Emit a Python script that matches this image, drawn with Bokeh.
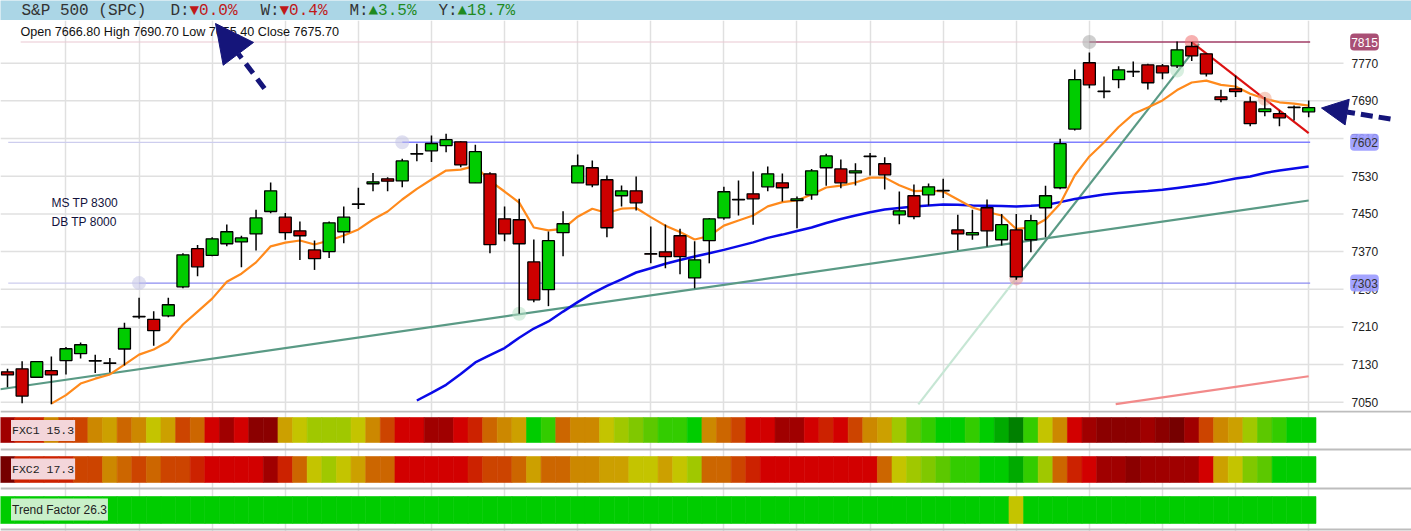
from bokeh.plotting import figure
from bokeh.models import Range1d, FixedTicker, Label, Arrow, NormalHead, ColumnDataSource, Span
from bokeh.layouts import column
from bokeh.embed import file_html
from bokeh.resources import INLINE
from bokeh.core.properties import value
from bokeh.transform import linear_cmap

# ---------------- data ----------------
candle_open = [
    7114.5, 7121, 7103, 7117, 7138.5, 7153, 7137.5, 7132.5, 7163, 7232.5,
    7226, 7233.5, 7295, 7376, 7362, 7386.5, 7390.5, 7407.5, 7455, 7443,
    7414, 7373.5, 7370, 7412, 7470, 7514, 7524.5, 7520, 7577, 7584,
    7595, 7603, 7516, 7535, 7439.5, 7437.5, 7348, 7289, 7410, 7516,
    7548, 7522.5, 7488.5, 7499, 7365.5, 7369.5, 7403.5, 7314, 7393, 7441.5,
    7481, 7492.5, 7507.5, 7516, 7478, 7490.5, 7548, 7545.5, 7537, 7571.5,
    7556.5, 7448, 7488.5, 7490.5, 7500, 7416, 7405.5, 7463, 7395, 7416,
    7395, 7463, 7505.5, 7630, 7771, 7710.5, 7735, 7751.5, 7766.5, 7764.5,
    7764.5, 7805.5, 7790, 7698.5, 7715.5, 7688, 7667, 7663, 7676.5, 7666.8]
candle_high = [
    7121, 7137, 7136.5, 7147, 7167, 7177, 7151, 7144, 7219, 7272,
    7243, 7272, 7366.5, 7384, 7400.5, 7427.5, 7403.5, 7458.5, 7516.5, 7452,
    7434, 7393.5, 7434, 7465.5, 7505.5, 7537, 7528, 7567, 7599, 7616.5,
    7620, 7604.5, 7597, 7538.5, 7465.5, 7482, 7395.5, 7412.5, 7455.5, 7576,
    7563.5, 7531.5, 7510.5, 7529.5, 7423, 7427.5, 7418.5, 7392, 7441.5, 7507.5,
    7521, 7540, 7550.5, 7535.5, 7487, 7545.5, 7577.5, 7565.5, 7557.5, 7579.5,
    7570.5, 7497.5, 7512.5, 7514.5, 7524.5, 7448, 7459, 7480.5, 7450, 7450,
    7448, 7509.5, 7609.5, 7756.5, 7793, 7742, 7763.5, 7773.5, 7769, 7768.5,
    7816, 7815, 7790.5, 7713.5, 7744, 7699.5, 7698, 7669.5, 7680, 7690.7]
candle_low = [
    7082, 7048, 7102, 7045.5, 7109, 7143, 7112, 7113, 7128, 7227,
    7170, 7230.5, 7292, 7317.5, 7360, 7381, 7336.5, 7372, 7451.5, 7395,
    7352, 7331, 7356.5, 7387.5, 7460.5, 7498, 7498, 7506.5, 7562, 7560,
    7581, 7549, 7516, 7366.5, 7392, 7238, 7262.5, 7254, 7360, 7516,
    7506.5, 7400.5, 7465.5, 7457, 7345, 7334.5, 7322, 7292, 7345, 7437.5,
    7446.5, 7427, 7498, 7476.5, 7419.5, 7480, 7509.5, 7504.5, 7510, 7531.5,
    7502, 7428, 7438.5, 7468, 7483.5, 7373.5, 7395, 7380.5, 7383, 7310,
    7368.5, 7400.5, 7502.5, 7627, 7717, 7695.5, 7717, 7740.5, 7714, 7736,
    7760, 7774.5, 7742, 7687, 7698, 7636, 7657.5, 7636, 7648.5, 7655.4]
candle_close = [
    7108, 7063, 7136, 7108, 7163.5, 7172, 7138.5, 7133.5, 7207, 7231.5,
    7202, 7257, 7363, 7337.5, 7397, 7412, 7399, 7441.5, 7499, 7410,
    7403.5, 7355, 7431, 7443, 7471, 7518, 7519.5, 7562.5, 7578, 7599.5,
    7607.5, 7554, 7582, 7384.5, 7407.5, 7386.5, 7267.5, 7393, 7429, 7552,
    7511.5, 7420.5, 7499, 7473.5, 7364.5, 7359, 7359, 7352.5, 7439.5, 7497,
    7480, 7482, 7535, 7505.5, 7482, 7541.5, 7573, 7516, 7541.5, 7572.5,
    7533, 7456.5, 7444, 7507.5, 7499, 7407.5, 7410, 7414, 7427, 7316.5,
    7435.5, 7488.5, 7599, 7735, 7724, 7709.5, 7756, 7752.5, 7728.5, 7749.5,
    7798.5, 7785.5, 7747.5, 7692.5, 7709.5, 7641.5, 7673, 7654, 7675.5, 7675.7]

ma_fast_start = 3
ma_fast = [
    7047, 7065, 7089.7, 7100, 7109, 7130, 7151,
    7162, 7179, 7215, 7242.5, 7270, 7306, 7323, 7347, 7381, 7389,
    7393.5, 7385, 7393.5, 7404, 7417, 7438, 7455, 7480.5, 7503, 7523,
    7542, 7544, 7552, 7520, 7497.5, 7474, 7421, 7415, 7418, 7444,
    7461, 7452, 7461, 7462.5, 7443, 7425, 7411.5, 7395.5, 7403, 7425,
    7436, 7446.5, 7466, 7475, 7478.5, 7491, 7506, 7510, 7516.5, 7527,
    7527, 7511, 7498.5, 7499.5, 7497.5, 7480.5, 7463.5, 7454, 7446.5, 7418,
    7421, 7438, 7471.5, 7531.5, 7572, 7601.5, 7634.5, 7662, 7676, 7691,
    7713, 7729, 7733, 7724, 7720.5, 7705, 7694.5, 7687, 7684, 7680]
ma_slow_start = 28
ma_slow = [
    7053.6, 7070,
    7087, 7110, 7134.5, 7150, 7165, 7187, 7206.5, 7221.5, 7242.5, 7262.5,
    7281, 7297, 7311, 7325.5, 7334.5, 7344, 7352, 7359.5, 7366.5, 7373.5,
    7381.5, 7389.5, 7399, 7406, 7413.5, 7421, 7430.5, 7439, 7446.5, 7453.5,
    7459.5, 7462.5, 7465.5, 7468, 7470, 7469.5, 7468, 7467.5, 7466.5, 7465.5,
    7467, 7469, 7475, 7481.5, 7486.5, 7491, 7494.5, 7496.5, 7498.5, 7501,
    7505, 7509, 7513.5, 7519, 7525, 7529.5, 7537, 7542, 7546.5, 7550.5]

# horizontal levels: price, index where the solid part starts, index where the faint part starts
level_price = [7815, 7602, 7303]
level_solid_from = [74, 27, 9]
level_faint_from = [0.9, 0.05, 0.05]
level_end = 89.1

# trend lines (index, price) pairs
trend_long = [(-0.5, 7077.6), (89, 7478.4)]
trend_steep_faint = [(62.3, 7045.5), (69, 7313.0)]
trend_steep = [(69, 7313.0), (81.5, 7811.0)]
trend_down = [(81, 7815.0), (89, 7621.4)]
trend_channel = [(75.8, 7045.8), (89, 7105.2)]

# marker points (index, price)
mark_x = [74, 81, 80, 86, 35, 69, 27, 9]
mark_y = [7815, 7815, 7754.5, 7694.4, 7237.8, 7313, 7602, 7303]

y_ticks = [7050, 7130, 7210, 7290, 7370, 7450, 7530, 7610, 7690, 7770]
v_ticks = [4, 9, 14, 19, 24, 29, 34, 39, 44, 49, 54, 59, 64, 69, 74, 79, 84, 89]

fxc1_level = [
    2, 4, 4, 7, 5, 5, 7, 8, 6, 7,
    9, 8, 5, 6, 3, 2, 3, 1, 1, 8,
    9, 10, 10, 10, 9, 7, 5, 3, 3, 2,
    2, 3, 4, 6, 7, 8, 14, 13, 6, 7,
    7, 9, 10, 11, 12, 13, 13, 14, 7, 6,
    5, 3, 3, 2, 2, 3, 4, 3, 5, 7,
    8, 10, 12, 13, 14, 14, 13, 14, 15, 16,
    13, 9, 7, 3, 2, 1, 1, 1, 2, 1,
    0, 2, 5, 7, 8, 10, 12, 13, 14, 14]
fxc2_level = [
    0, 4, 4, 4, 4, 5, 5, 7, 6, 5,
    6, 5, 5, 4, 3, 3, 3, 3, 2, 4,
    6, 9, 10, 9, 8, 6, 6, 3, 3, 3,
    3, 3, 4, 5, 5, 6, 8, 6, 6, 7,
    7, 8, 8, 9, 9, 8, 9, 10, 6, 6,
    5, 4, 3, 3, 3, 3, 3, 3, 3, 3,
    6, 9, 10, 11, 12, 13, 13, 14, 14, 15,
    13, 10, 6, 4, 3, 2, 2, 1, 2, 2,
    2, 2, 3, 8, 9, 11, 12, 14, 14, 14]
trend_level = [
    14, 14, 14, 14, 14, 14, 14, 14, 14, 14,
    14, 14, 14, 14, 14, 14, 14, 14, 14, 14,
    14, 14, 14, 14, 14, 14, 14, 14, 14, 14,
    14, 14, 14, 14, 14, 14, 14, 14, 14, 14,
    14, 14, 14, 14, 14, 14, 14, 14, 14, 14,
    14, 14, 14, 14, 14, 14, 14, 14, 14, 14,
    14, 14, 14, 14, 14, 14, 14, 14, 14, 9,
    14, 14, 14, 14, 14, 14, 14, 14, 14, 14,
    14, 14, 14, 14, 14, 14, 14, 14, 14, 14]
heat_palette = ["#760000", "#8b0000", "#a00000", "#d20000", "#cc2200", "#cc4400",
                "#cc6600", "#cc8800", "#cca000", "#c4c400", "#a0c800", "#80c800",
                "#5cc800", "#33cc00", "#00cc00", "#00aa00", "#008000"]

header_texts = ["S&P 500 (SPC)", "D:", "\u25bc0.0%", "W:", "\u25bc0.4%", "M:", "\u25b23.5%", "Y:", "\u25b218.7%"]
header_kind = ["name", "key", "down", "key", "down", "key", "up", "key", "up"]
ohlc_text = "Open 7666.80 High 7690.70 Low 7655.40 Close 7675.70"
notes = ["MS TP 8300", "DB TP 8000"]
strip_names = ["FXC1 15.3", "FXC2 17.3", "Trend Factor 26.3"]

# ---------------- layout constants ----------------
PX = 14.62          # pixels per candle
X0 = 7.0            # pixel of candle 0
W = 1411
GRID_RIGHT = 1343   # horizontal grid lines stop here
HEAD_H = 20
MAIN_H = 390        # reference rows 20..410
STRIP_H = 121       # reference rows 410..531
Y_LO, Y_HI = 7032.4, 7860.7


def px2i(px):
    return (px - X0) / PX


def ref_price(ypx):
    # vertical pixel of the reference picture -> price in the main panel
    return Y_HI - (ypx - 20) * (Y_HI - Y_LO) / MAIN_H


SANS = "Liberation Sans"
MONO = "Liberation Mono"
NAVY = "#15157a"

# ---------------- header ----------------
head = figure(width=W, height=HEAD_H, x_range=Range1d(0, W), y_range=Range1d(HEAD_H, 0),
              x_axis_location=None, y_axis_location=None, toolbar_location=None,
              output_backend="svg", min_border=0, outline_line_color=None,
              background_fill_color="#abd6e6", border_fill_color="#abd6e6")
head.grid.visible = False
kind_color = {"name": "#333333", "key": "#333333", "down": "#c01818", "up": "#1f8a1f"}
hx = [21, 170, 189, 260, 279, 349, 368, 438, 457]
head.text(x=hx, y=[10.5] * len(hx), text=header_texts,
          text_color=[kind_color[k] for k in header_kind],
          text_font=value(MONO), text_font_size=value("16px"), text_baseline="middle")

# ---------------- main panel ----------------
p = figure(frame_width=W, frame_height=MAIN_H,
           x_range=Range1d(px2i(0), px2i(W)), y_range=Range1d(Y_LO, Y_HI),
           x_axis_location=None, y_axis_location=None, toolbar_location=None,
           output_backend="svg", min_border=0, outline_line_color=None)
p.xgrid.ticker = FixedTicker(ticks=v_ticks)
p.xgrid.grid_line_color = "#e0e0e0"
p.xgrid.grid_line_width = 1.5
p.ygrid.visible = False

# horizontal grid lines and price labels (right-hand scale)
p.segment(x0=[px2i(0)] * len(y_ticks), y0=y_ticks, x1=[px2i(GRID_RIGHT)] * len(y_ticks), y1=y_ticks,
          line_color="#e0e0e0", line_width=1.5)
p.text(x=[px2i(1351)] * len(y_ticks), y=y_ticks, text=[str(t) for t in y_ticks],
       text_font=value(SANS), text_font_size=value("12px"), text_color="#222222",
       text_baseline="middle", text_align="left")

# level lines
for lp, s_from, f_from, col, fcol in zip(level_price, level_solid_from, level_faint_from,
                                         ["#a03c66", "#8080ff", "#8c8cf0"],
                                         ["#eac8d2", "#cdcdee", "#cdcdee"]):
    p.segment(x0=[f_from], y0=[lp], x1=[s_from], y1=[lp], line_color=fcol, line_width=1.2)
    p.segment(x0=[s_from], y0=[lp], x1=[level_end], y1=[lp], line_color=col, line_width=1.4)


def tline(pts, color, width, alpha=1.0):
    (xa, ya), (xb, yb) = pts
    p.segment(x0=[xa], y0=[ya], x1=[xb], y1=[yb], line_color=color, line_width=width, line_alpha=alpha)


tline(trend_long, "#5a9a85", 2.2)
tline(trend_steep_faint, "#c6e6d4", 2.2)
tline(trend_steep, "#5a9a85", 2.2)
tline(trend_channel, "#f28a8a", 2.2)

# moving averages
p.line(x=list(range(ma_slow_start, ma_slow_start + len(ma_slow))), y=ma_slow,
       line_color="#0a0ae8", line_width=2.5)
p.line(x=list(range(ma_fast_start, ma_fast_start + len(ma_fast))), y=ma_fast,
       line_color="#ff8a1c", line_width=2.2)

tline(trend_down, "#dd1111", 2.2)

# marker circles
p.scatter(x=mark_x, y=mark_y, size=14,
          fill_color=["#a8a8a8", "#f07070", "#b8e2c6", "#f0a890", "#b8e2c6", "#e89090", "#c4c4e6", "#c4c4e6"],
          fill_alpha=0.55, line_color=None)

# candles
idx = list(range(len(candle_open)))
src = ColumnDataSource(dict(
    x=idx,
    top=[max(o, c) for o, c in zip(candle_open, candle_close)],
    bottom=[min(o, c) for o, c in zip(candle_open, candle_close)],
    high=candle_high, low=candle_low,
    color=["#00cc00" if c >= o else "#cc0000" for o, c in zip(candle_open, candle_close)]))
p.segment(x0="x", y0="low", x1="x", y1="high", source=src, line_color="black", line_width=1.5)
p.vbar(x="x", width=0.82, top="top", bottom="bottom", source=src,
       fill_color="color", line_color="black", line_width=1.3)

# texts
p.add_layout(Label(x=px2i(20), y=ref_price(31.5), text=ohlc_text, text_font=SANS,
                   text_font_size="12.6px", text_color="#111111", text_baseline="middle"))
for k, t in enumerate(notes):
    p.add_layout(Label(x=px2i(51), y=ref_price(202 + 19 * k), text=t, text_font=SANS,
                       text_font_size="12px", text_color="#12123c", text_baseline="middle"))

# level boxes on the right-hand scale
for lp, bg, fg in zip(level_price, ["#a03c66", "#9a9aff", "#9a9aff"], ["#ffffff", "#333333", "#333333"]):
    p.add_layout(Label(x=px2i(1364), y=lp, text=str(lp), text_align="center", text_baseline="middle",
                       text_font=SANS, text_font_size="12px", text_color=fg,
                       background_fill_color=bg, background_fill_alpha=0.9,
                       padding=(1, 4), border_radius=4))

# arrows
p.add_layout(Arrow(end=NormalHead(size=38, fill_color=NAVY, line_color=NAVY),
                   x_start=px2i(264), y_start=ref_price(88), x_end=px2i(215), y_end=ref_price(23),
                   line_color=NAVY, line_width=5, line_dash="12 7"))
p.add_layout(Arrow(end=NormalHead(size=26, fill_color=NAVY, line_color=NAVY),
                   x_start=px2i(1390), y_start=ref_price(118.5), x_end=px2i(1321), y_end=ref_price(107.5),
                   line_color=NAVY, line_width=5, line_dash="12 6"))

# ---------------- indicator strips ----------------
s = figure(frame_width=W, frame_height=STRIP_H,
           x_range=Range1d(px2i(0), px2i(W)), y_range=Range1d(127, 6),
           x_axis_location=None, y_axis_location=None, toolbar_location=None,
           output_backend="svg", min_border=0, outline_line_color=None)
s.xgrid.ticker = FixedTicker(ticks=v_ticks)
s.xgrid.grid_line_color = "#e0e0e0"
s.xgrid.grid_line_width = 1.5
s.ygrid.visible = False

rows = [(fxc1_level, 13, 38), (fxc2_level, 52, 78), (trend_level, 92, 119)]
for levels, top, bot in rows:
    cs = ColumnDataSource(dict(left=[i - 0.5 for i in idx], right=[i + 0.5 for i in idx], lvl=levels))
    cmap = linear_cmap("lvl", heat_palette, -0.5, len(heat_palette) - 0.5)
    s.quad(left="left", right="right", top=top, bottom=bot, source=cs,
           fill_color=cmap, line_color=cmap, line_width=0.6)

for yy in [7, 45, 84, 125]:
    s.add_layout(Span(location=yy, dimension="width", line_color="#bdbdbd", line_width=2))

label_styles = [("#f3d6da", MONO, "11.5px", 26), ("#f3d6da", MONO, "11.5px", 64.5), ("#c9f0c9", SANS, "12px", 105)]
for name, (bg, fnt, fs, yy) in zip(strip_names, label_styles):
    s.add_layout(Label(x=px2i(10.5), y=yy, text=name, text_font=fnt, text_font_size=fs,
                       text_color="#222222", text_baseline="middle",
                       background_fill_color=bg, padding=(1, 4)))

layout = column(head, p, s, spacing=0)
open("out.html", "w").write(file_html(layout, INLINE))
